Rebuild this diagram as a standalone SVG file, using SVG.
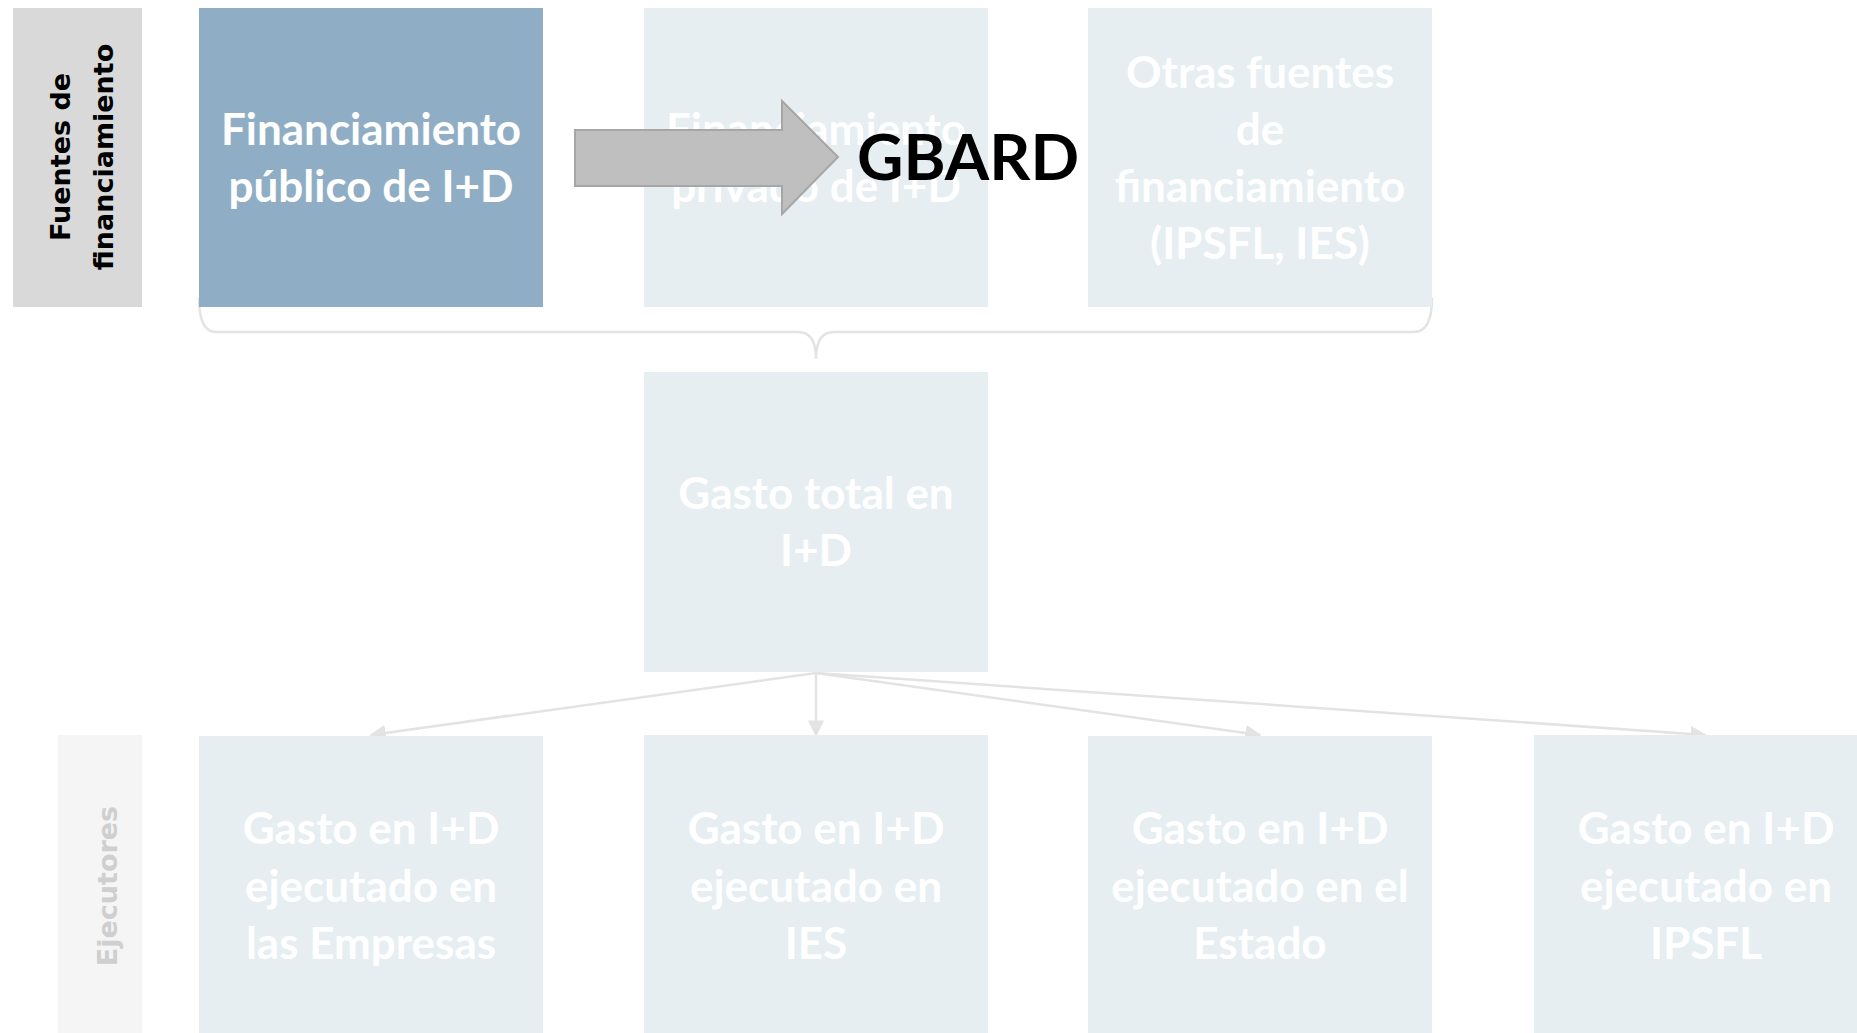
<svg xmlns="http://www.w3.org/2000/svg" width="1857" height="1033" viewBox="0 0 1857 1033">
<defs>
<style>
.lbl{font-family:"DejaVu Sans",sans-serif;font-weight:bold;font-size:27px;text-anchor:middle}
.bt{font-family:Lato,"Open Sans",sans-serif;font-weight:bold;font-size:44px;fill:#ffffff;text-anchor:middle}
.light{fill:#e6eef2}
.conn{fill:none;stroke:#e3e3e3;stroke-width:2.5}
</style>
<marker id="ah" viewBox="0 0 10 10" refX="9" refY="5" markerWidth="6.5" markerHeight="6.5" orient="auto" markerUnits="strokeWidth">
<path d="M0,0 L10,5 L0,10 z" fill="#e3e3e3"/>
</marker>
</defs>
<rect width="1857" height="1033" fill="#ffffff"/>

<g id="label-fuentes">
<rect x="13" y="8" width="129" height="299" fill="#d9d9d9"/>
<text class="lbl" transform="translate(70,157) rotate(-90)" fill="#000000">Fuentes de</text>
<text class="lbl" transform="translate(113,157) rotate(-90)" fill="#000000">financiamiento</text>
</g>

<g id="label-ejecutores">
<rect x="58" y="735" width="84" height="298" fill="#f5f5f5"/>
<text class="lbl" transform="translate(117,886) rotate(-90)" fill="#cfcfcf">Ejecutores</text>
</g>

<g id="connectors">
<path class="conn" d="M199,298 Q199,332 216,332 L798,332 Q816,332 816,359 Q816,332 834,332 L1414,332 Q1432,332 1432,298" stroke-width="1.5"/>
<line class="conn" x1="816" y1="673" x2="371" y2="735" marker-end="url(#ah)"/>
<line class="conn" x1="816" y1="673" x2="816" y2="735" marker-end="url(#ah)"/>
<line class="conn" x1="816" y1="673" x2="1260" y2="735" marker-end="url(#ah)"/>
<line class="conn" x1="816" y1="673" x2="1705" y2="735" marker-end="url(#ah)"/>
</g>

<g id="node-publico">
<rect x="199" y="8" width="344" height="299" fill="#8faec5"/>
<text class="bt" x="371" y="145">Financiamiento</text>
<text class="bt" x="371" y="202">público de I+D</text>
</g>

<g id="node-privado">
<rect x="644" y="8" width="344" height="299" class="light"/>
<text class="bt" x="816" y="145">Financiamiento</text>
<text class="bt" x="816" y="202">privado de I+D</text>
</g>

<g id="node-otras">
<rect x="1088" y="8" width="344" height="299" class="light"/>
<text class="bt" x="1260" y="88">Otras fuentes</text>
<text class="bt" x="1260" y="145">de</text>
<text class="bt" x="1260" y="202">financiamiento</text>
<text class="bt" x="1260" y="259">(IPSFL, IES)</text>
</g>

<g id="node-total">
<rect x="644" y="372" width="344" height="300" class="light"/>
<text class="bt" x="816" y="509">Gasto total en</text>
<text class="bt" x="816" y="566">I+D</text>
</g>

<g id="node-empresas">
<rect x="199" y="736" width="344" height="297" class="light"/>
<text class="bt" x="371" y="844">Gasto en I+D</text>
<text class="bt" x="371" y="902">ejecutado en</text>
<text class="bt" x="371" y="959">las Empresas</text>
</g>

<g id="node-ies">
<rect x="644" y="735" width="344" height="298" class="light"/>
<text class="bt" x="816" y="844">Gasto en I+D</text>
<text class="bt" x="816" y="902">ejecutado en</text>
<text class="bt" x="816" y="959">IES</text>
</g>

<g id="node-estado">
<rect x="1088" y="736" width="344" height="297" class="light"/>
<text class="bt" x="1260" y="844">Gasto en I+D</text>
<text class="bt" x="1260" y="902">ejecutado en el</text>
<text class="bt" x="1260" y="959">Estado</text>
</g>

<g id="node-ipsfl">
<rect x="1534" y="735" width="344" height="298" class="light"/>
<text class="bt" x="1706" y="844">Gasto en I+D</text>
<text class="bt" x="1706" y="902">ejecutado en</text>
<text class="bt" x="1706" y="959">IPSFL</text>
</g>

<g id="gbard-arrow">
<polygon points="575,130 782,130 782,101 838,157 782,214 782,186 575,186" fill="#bfbfbf" stroke="#a6a6a6" stroke-width="2"/>
<text x="857" y="180" font-family="Lato,'Open Sans',sans-serif" font-weight="bold" font-size="64" fill="#000000">GBARD</text>
</g>
</svg>
